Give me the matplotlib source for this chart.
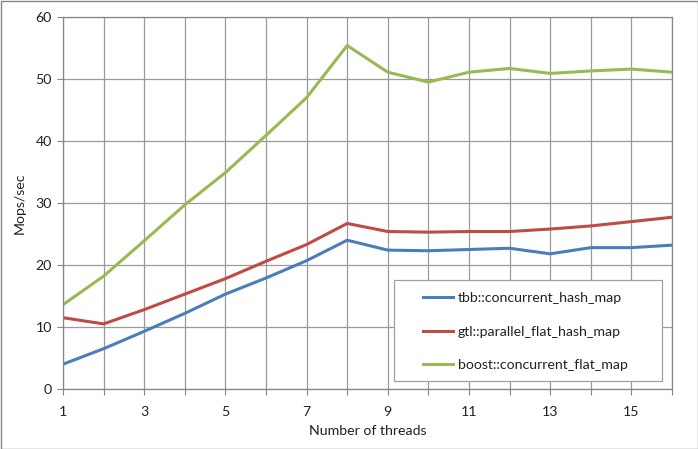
import matplotlib
matplotlib.use("Agg")
import matplotlib.pyplot as plt
from matplotlib.patches import Rectangle

threads = list(range(1, 17))
tbb = [4.0, 6.5, 9.3, 12.2, 15.3, 17.9, 20.7, 24.0, 22.4, 22.3, 22.5, 22.7, 21.8, 22.8, 22.8, 23.2]
gtl = [11.5, 10.5, 12.8, 15.3, 17.8, 20.6, 23.3, 26.7, 25.4, 25.3, 25.4, 25.4, 25.8, 26.3, 27.0, 27.7]
boost = [13.6, 18.2, 23.9, 29.7, 34.9, 40.9, 47.0, 55.4, 51.1, 49.5, 51.1, 51.7, 50.9, 51.3, 51.6, 51.1]
labels = ["tbb::concurrent_hash_map", "gtl::parallel_flat_hash_map", "boost::concurrent_flat_map"]
colors = ["#4a7ebb", "#be4b48", "#98b954"]
xticks = [1, 3, 5, 7, 9, 11, 13, 15]
yticks = [0, 10, 20, 30, 40, 50, 60]

plt.rcParams['font.family'] = ['Lato', 'DejaVu Sans']
FS = 10.2
fig = plt.figure(figsize=(6.98, 4.49), dpi=100)
W, H = 698, 449
ax = fig.add_axes([63/W, 1-389/H, (672-63)/W, (389-17)/H])

for ys, lab, c in zip([tbb, gtl, boost], labels, colors):
    ax.plot(threads, ys, color=c, lw=2.2, label=lab, solid_joinstyle='round')

ax.set_xlim(1, 16)
ax.set_ylim(0, 60)
ax.set_xticks(threads)
ax.set_xticklabels([str(t) if t in xticks else "" for t in threads])
ax.set_yticks(yticks)
ax.grid(True, color="#9a9a9a", lw=0.9)
ax.set_axisbelow(True)
for s in ax.spines.values():
    s.set_color("#868686")
    s.set_linewidth(0.9)
ax.tick_params(direction='out', length=4, color="#868686", labelsize=FS, labelcolor="#222222", pad=8)
ax.tick_params(axis='y', pad=4)
ax.set_xlabel("Number of threads", fontsize=FS, color="#222222", labelpad=5)
ax.set_ylabel("Mops/sec", fontsize=FS, color="#222222", labelpad=7)

# legend frame
fig.patches.append(Rectangle((394/W, 1-381/H), (662-394)/W, (381-280)/H, transform=fig.transFigure,
                             facecolor="white", edgecolor="#a0a0a0", lw=0.9, zorder=5))
leg = fig.legend(loc='upper left', bbox_to_anchor=(423/W, 1-292/H),
                 fontsize=FS, frameon=False, handlelength=2.15,
                 handletextpad=0.3, labelspacing=1.52, borderpad=0, borderaxespad=0)
leg.set_zorder(6)
for t in leg.get_texts():
    t.set_color("#222222")

fig.patches.append(Rectangle((0.5/W, 0.5/H), 1-1/W, 1-1/H, transform=fig.transFigure,
                             fill=False, edgecolor="#868686", lw=1))
fig.savefig("out.png", dpi=100)
